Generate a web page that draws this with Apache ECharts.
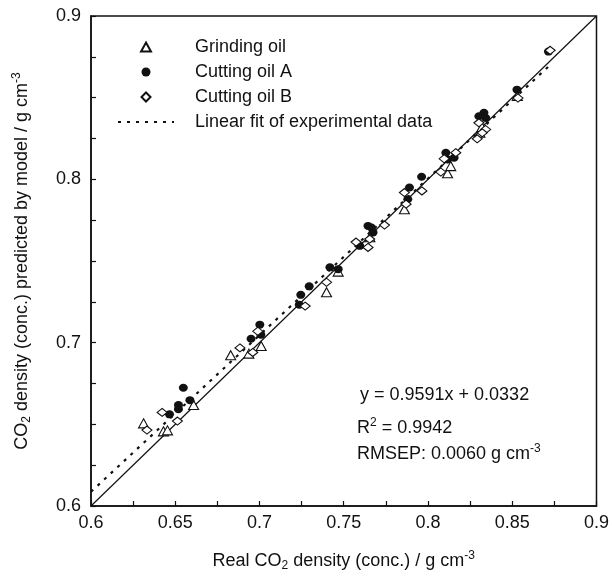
<!DOCTYPE html>
<html>
<head>
<meta charset="utf-8">
<script src="https://cdn.jsdelivr.net/npm/echarts@6/dist/echarts.min.js"></script>
<style>
html,body{margin:0;padding:0;background:#fff;}
#chart{width:612px;height:577px;}
</style>
</head>
<body>
<div id="chart"></div>
<script>
// ---- data ----
var grindingOil = [
  [0.6312,0.6506],[0.6430,0.6457],[0.6454,0.6463],[0.6609,0.6618],[0.6829,0.6923],
  [0.6937,0.6933],[0.7010,0.6980],[0.7398,0.7309],[0.7467,0.7435],[0.7655,0.7645],
  [0.7860,0.7817],[0.8116,0.8037],[0.8135,0.8081],[0.8308,0.8285],[0.8320,0.8320],
  [0.8530,0.8510]
];
var cuttingOilA = [
  [0.6466,0.6561],[0.6519,0.6618],[0.6519,0.6593],[0.6548,0.6724],[0.6587,0.6648],
  [0.6950,0.7024],[0.7002,0.7110],[0.7008,0.7049],[0.7245,0.7293],[0.7236,0.7232],
  [0.7295,0.7345],[0.7418,0.7461],[0.7467,0.7450],[0.7595,0.7593],[0.7644,0.7715],
  [0.7664,0.7705],[0.7674,0.7675],[0.7890,0.7950],[0.7880,0.7878],[0.7962,0.8016],
  [0.8106,0.8163],[0.8116,0.8122],[0.8155,0.8132],[0.8332,0.8407],[0.8342,0.8376],
  [0.8302,0.8386],[0.8528,0.8549],[0.8715,0.8782]
];
var cuttingOilB = [
  [0.6332,0.6465],[0.6422,0.6573],[0.6513,0.6520],[0.6884,0.6968],[0.6960,0.6940],
  [0.6990,0.7070],[0.7271,0.7224],[0.7398,0.7370],[0.7573,0.7616],[0.7644,0.7583],
  [0.7654,0.7634],[0.7742,0.7720],[0.7860,0.7919],[0.7870,0.7848],[0.7964,0.7929],
  [0.8076,0.8045],[0.8096,0.8126],[0.8165,0.8163],[0.8302,0.8346],[0.8292,0.8248],
  [0.8342,0.8305],[0.8322,0.8285],[0.8534,0.8498],[0.8725,0.8790]
];
var linearFit = [[0.6,0.6087],[0.873,0.8705]];
var identityLine = [[0.6,0.6],[0.9,0.9]];
var xTickLabels = ['0.6','0.65','0.7','0.75','0.8','0.85','0.9'];
var yTickLabels = ['0.6','0.7','0.8','0.9'];
var seriesNames = ['Grinding oil','Cutting oil A','Cutting oil B','Linear fit of experimental data'];
var annotationLines = ['y = 0.9591x + 0.0332', 'R{p|2} = 0.9942', 'RMSEP: 0.0060 g cm{p|-3}'];

var FONT = '"Liberation Sans", Arial, Helvetica, sans-serif';
function findLabel(list, v){
  for (var i=0;i<list.length;i++){ if (Math.abs(parseFloat(list[i]) - v) < 1e-6) return list[i]; }
  return '';
}
var richAxis = {
  a:{fontSize:18,fontFamily:FONT,color:'#111',lineHeight:22},
  s:{fontSize:12,fontFamily:FONT,color:'#111',lineHeight:12,verticalAlign:'bottom'},
  p:{fontSize:12,fontFamily:FONT,color:'#111',lineHeight:12,verticalAlign:'top'}
};
var diamondPath = 'path://M0,-1 L1,0 L0,1 L-1,0 Z';
var trianglePath = 'path://M0,-1 L1.1,1 L-1.1,1 Z';

var chart = echarts.init(document.getElementById('chart'), null, {renderer:'canvas'});
chart.setOption({
  animation:false,
  backgroundColor:'#fff',
  grid:{left:91,right:12,top:16,bottom:69,show:true,borderColor:'#111',borderWidth:1.5,backgroundColor:'transparent'},
  legend:{
    orient:'vertical',left:112,top:33,
    itemWidth:56,itemHeight:9,itemGap:7,
    data:[
      {name:seriesNames[0]},
      {name:seriesNames[1]},
      {name:seriesNames[2]},
      {name:seriesNames[3],itemStyle:{opacity:0}}
    ],
    textStyle:{fontSize:18,fontFamily:FONT,color:'#111',lineHeight:18,padding:[0,0,0,16]}
  },
  xAxis:{
    type:'value',min:0.6,max:0.9,interval:0.025,
    axisLine:{lineStyle:{color:'#111',width:1.5}},
    axisTick:{inside:true,length:5,lineStyle:{color:'#111',width:1.2}},
    splitLine:{show:false},
    axisLabel:{fontSize:18,fontFamily:FONT,color:'#111',margin:8,showMaxLabel:true,showMinLabel:true,
      formatter:function(v){return findLabel(xTickLabels,v);}},
    name:'{a|Real CO}{s|2}{a| density (conc.) / g cm}{p|-3}',
    nameLocation:'middle',nameGap:44,
    nameTextStyle:{rich:richAxis}
  },
  yAxis:{
    type:'value',min:0.6,max:0.9,interval:0.025,
    axisLine:{lineStyle:{color:'#111',width:1.5}},
    axisTick:{inside:true,length:5,lineStyle:{color:'#111',width:1.2}},
    splitLine:{show:false},
    axisLabel:{fontSize:18,fontFamily:FONT,color:'#111',margin:10,
      formatter:function(v){return findLabel(yTickLabels,v);}},
    name:'{a|CO}{s|2}{a| density (conc.) predicted by model / g cm}{p|-3}',
    nameLocation:'middle',nameGap:58,nameRotate:90,
    nameTextStyle:{rich:richAxis}
  },
  graphic:[
    {type:'text',left:360,top:386,style:{text:annotationLines[0],font:'18px '+FONT,fill:'#111'}},
    {type:'text',left:357,top:417,style:{text:annotationLines[1],fill:'#111',
      rich:{p:{fontSize:12,fontFamily:FONT,lineHeight:12,verticalAlign:'top',fill:'#111'}},
      fontSize:18,fontFamily:FONT,lineHeight:22}},
    {type:'text',left:357,top:443,style:{text:annotationLines[2],fill:'#111',
      rich:{p:{fontSize:12,fontFamily:FONT,lineHeight:12,verticalAlign:'top',fill:'#111'}},
      fontSize:18,fontFamily:FONT,lineHeight:22}}
  ],
  series:[
    {name:'identity',type:'line',data:identityLine,showSymbol:false,symbol:'none',silent:true,
      lineStyle:{color:'#111',width:1.2},z:1},
    {name:seriesNames[3],type:'line',data:linearFit,showSymbol:false,symbol:'none',
      lineStyle:{color:'#111',width:2.2,type:[3,6]},itemStyle:{color:'#111'},z:1},
    {name:seriesNames[0],type:'scatter',data:grindingOil,symbol:trianglePath,symbolSize:[10,9],
      itemStyle:{color:'#fff',borderColor:'#111',borderWidth:1.1,opacity:1},z:2},
    {name:seriesNames[1],type:'scatter',data:cuttingOilA,symbol:'circle',symbolSize:[9,8],
      itemStyle:{color:'#111',borderColor:'#111',borderWidth:0,opacity:1},z:3},
    {name:seriesNames[2],type:'scatter',data:cuttingOilB,symbol:diamondPath,symbolSize:[10,8],
      itemStyle:{color:'#fff',borderColor:'#111',borderWidth:1.1,opacity:1},z:4}
  ]
});
</script>
</body>
</html>
